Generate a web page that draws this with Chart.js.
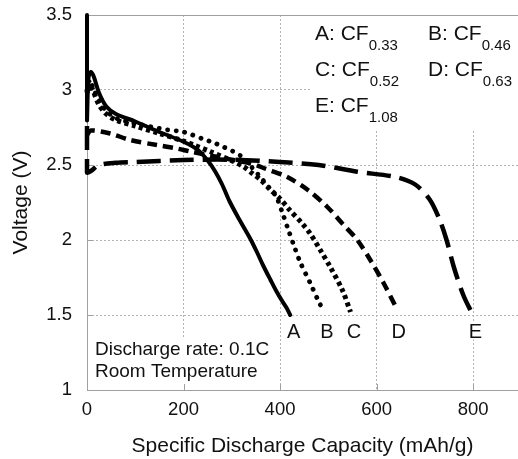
<!DOCTYPE html>
<html><head><meta charset="utf-8">
<script src="https://cdn.jsdelivr.net/npm/chart.js@4"></script>
<style>html,body{margin:0;padding:0;background:#fff;overflow:hidden}</style>
</head><body>
<canvas id="c" width="518" height="459"></canvas>
<script>
// ---- data ----
const curveNames = ['A','B','C','D','E'];
const cfValues = ['0.33','0.46','0.52','0.63','1.08'];

const capA  = [0, 0, 3, 8, 14, 25, 40, 60, 100, 150, 200, 230, 250, 265, 280, 295, 315, 338, 352, 365, 380, 393, 405, 414, 421];
const voltA = [3.5, 2.8, 3.08, 3.12, 3.09, 2.98, 2.89, 2.84, 2.79, 2.72, 2.655, 2.6, 2.53, 2.46, 2.37, 2.26, 2.14, 2.01, 1.92, 1.83, 1.735, 1.655, 1.59, 1.545, 1.5];

const capB  = [0, 5, 12, 25, 40, 62, 97, 132, 166, 200, 241, 262, 283, 303, 321, 340, 359, 376, 392, 405, 418, 428, 442, 463, 480, 490];
const voltB = [3.0, 3.07, 3.02, 2.93, 2.86, 2.81, 2.78, 2.755, 2.735, 2.72, 2.673, 2.65, 2.62, 2.59, 2.555, 2.49, 2.42, 2.355, 2.29, 2.18, 2.06, 1.97, 1.85, 1.71, 1.59, 1.53];

const capC  = [0, 5, 12, 25, 40, 60, 100, 150, 200, 220, 255, 297, 324, 342, 360, 380, 400, 420, 446, 463, 484, 504, 529, 546];
const voltC = [2.98, 3.05, 3.0, 2.9, 2.84, 2.8, 2.76, 2.71, 2.66, 2.635, 2.59, 2.533, 2.49, 2.445, 2.4, 2.335, 2.275, 2.2, 2.11, 2.04, 1.93, 1.82, 1.667, 1.52];

const capD  = [0, 8, 48, 89, 145, 186, 214, 260, 300, 340, 370, 415, 459, 498, 529, 560, 587, 615, 639];
const voltD = [2.70, 2.73, 2.71, 2.667, 2.633, 2.61, 2.59, 2.56, 2.535, 2.51, 2.475, 2.42, 2.33, 2.22, 2.11, 2.0, 1.867, 1.71, 1.56];

const capE  = [0, 0, 8, 25, 60, 100, 200, 300, 400, 480, 560, 640, 680, 710, 730, 745, 760, 780, 798];
const voltE = [2.76, 2.45, 2.46, 2.5, 2.515, 2.52, 2.533, 2.535, 2.52, 2.5, 2.455, 2.42, 2.37, 2.27, 2.14, 2.0, 1.82, 1.63, 1.51];

const xTicks = [0, 200, 400, 600, 800];
const yTicks = [1, 1.5, 2, 2.5, 3, 3.5];
const noteLines = ['Discharge rate: 0.1C', 'Room Temperature'];
const xTitle = 'Specific Discharge Capacity (mAh/g)';
const yTitle = 'Voltage (V)';

// ---- styles ----
const FONT = "'Liberation Sans', Arial, Helvetica, sans-serif";
const TXT = '#111';
const GRID = '#b4b4b4';
const AXIS = '#a0a0a0';
const lineStyles = [
  {w: 4, dash: [], cap: 'round'},
  {w: 4.8, dash: [0.1, 8.5], cap: 'round'},
  {w: 5, dash: [4, 3.5], cap: 'butt'},
  {w: 4.5, dash: [10, 6], cap: 'butt'},
  {w: 4.5, dash: [24, 9], cap: 'butt'}
];

const caps = [capA, capB, capC, capD, capE];
const volts = [voltA, voltB, voltC, voltD, voltE];

const datasets = curveNames.map((n, i) => ({
  label: n,
  data: caps[i].map((c, k) => ({x: c, y: volts[i][k]})),
  borderColor: '#000',
  backgroundColor: '#000',
  borderWidth: lineStyles[i].w,
  borderDash: lineStyles[i].dash,
  borderCapStyle: lineStyles[i].cap,
  borderJoinStyle: 'round',
  pointRadius: 0,
  tension: 0.3,
  clip: 6,
  fill: false
}));

const decor = {
  id: 'decor',
  beforeDatasetsDraw(chart) {
    const {ctx, chartArea: ca, scales: {x, y}} = chart;
    ctx.save();
    // white masks behind text blocks
    ctx.fillStyle = '#fff';
    ctx.fillRect(312, ca.top + 1, 206, 115);
    ctx.fillRect(ca.left + 1, 337, 186, ca.bottom - 337 - 1);
    // top frame line
    ctx.strokeStyle = AXIS; ctx.lineWidth = 1;
    ctx.beginPath();
    ctx.moveTo(ca.left, ca.top + 0.5); ctx.lineTo(ca.right, ca.top + 0.5);
    // inner ticks
    xTicks.forEach(v => {
      const px = Math.round(x.getPixelForValue(v)) + 0.5;
      ctx.moveTo(px, ca.bottom); ctx.lineTo(px, ca.bottom - 6);
    });
    yTicks.forEach(v => {
      const py = Math.round(y.getPixelForValue(v)) + 0.5;
      ctx.moveTo(ca.left, py); ctx.lineTo(ca.left + 6, py);
    });
    ctx.stroke();
    ctx.restore();
  },
  afterDatasetsDraw(chart) {
    const {ctx, chartArea: ca, scales: {x, y}} = chart;
    ctx.save();
    ctx.fillStyle = TXT;
    // legend-like block with subscripts
    const cols = [315, 428];
    const rows = [39.5, 76, 112];
    curveNames.forEach((n, i) => {
      const cx = cols[i % 2], by = rows[Math.floor(i / 2)];
      ctx.font = '21px ' + FONT;
      ctx.textAlign = 'left'; ctx.textBaseline = 'alphabetic';
      const main = n + ': CF';
      ctx.fillText(main, cx, by);
      const w = ctx.measureText(main).width;
      ctx.font = '15px ' + FONT;
      ctx.fillText(cfValues[i], cx + w, by + 10);
    });
    // note text
    ctx.font = '19px ' + FONT;
    ctx.fillText(noteLines[0], 95, 355);
    ctx.fillText(noteLines[1], 95, 377);
    // curve end labels
    ctx.font = '20px ' + FONT;
    ctx.textAlign = 'center';
    curveNames.forEach((n, i) => {
      const last = caps[i][caps[i].length - 1];
      const px = x.getPixelForValue(last + 7);
      const py = y.getPixelForValue(1.35);
      const w = ctx.measureText(n).width;
      ctx.fillStyle = '#fff';
      ctx.fillRect(px - w / 2 - 1, py - 16, w + 2, 18);
      ctx.fillStyle = TXT;
      ctx.fillText(n, px, py);
    });
    ctx.restore();
  }
};

const gridColor = (hide) => (ctx) => (ctx.tick && hide.includes(ctx.tick.value)) ? 'rgba(0,0,0,0)' : GRID;

new Chart(document.getElementById('c'), {
  type: 'line',
  data: {datasets},
  options: {
    responsive: false,
    animation: false,
    layout: {padding: {top: 15, right: 0, left: 0, bottom: 0}},
    plugins: {legend: {display: false}, tooltip: {enabled: false}},
    scales: {
      x: {
        type: 'linear', min: 0, max: 893,
        afterBuildTicks: ax => { ax.ticks = xTicks.map(v => ({value: v})); },
        afterFit: ax => { ax.height = 69; ax.paddingLeft = 0; ax.paddingRight = 0; },
        grid: {color: gridColor([0]), lineWidth: 1, drawTicks: false},
        border: {display: true, color: AXIS, width: 1, dash: [2, 2]},
        ticks: {padding: 9, font: {family: FONT, size: 18.5}, color: TXT, maxRotation: 0, autoSkip: false, callback: v => String(v)},
        title: {display: true, text: xTitle, font: {family: FONT, size: 21}, color: TXT, padding: {top: 1, bottom: 0}}
      },
      y: {
        type: 'linear', min: 1, max: 3.5,
        afterBuildTicks: ax => { ax.ticks = yTicks.map(v => ({value: v})); },
        afterFit: ax => { ax.width = 87; ax.paddingTop = 0; ax.paddingBottom = 0; },
        grid: {color: gridColor([1, 3.5]), lineWidth: 1, drawTicks: false},
        border: {display: true, color: AXIS, width: 1, dash: [2, 2]},
        ticks: {padding: 15, font: {family: FONT, size: 18.5}, color: TXT, autoSkip: false, callback: v => String(v)},
        title: {display: true, text: yTitle, font: {family: FONT, size: 21}, color: TXT, padding: {top: 9, bottom: 0}}
      }
    }
  },
  plugins: [decor]
});
</script>
</body></html>
